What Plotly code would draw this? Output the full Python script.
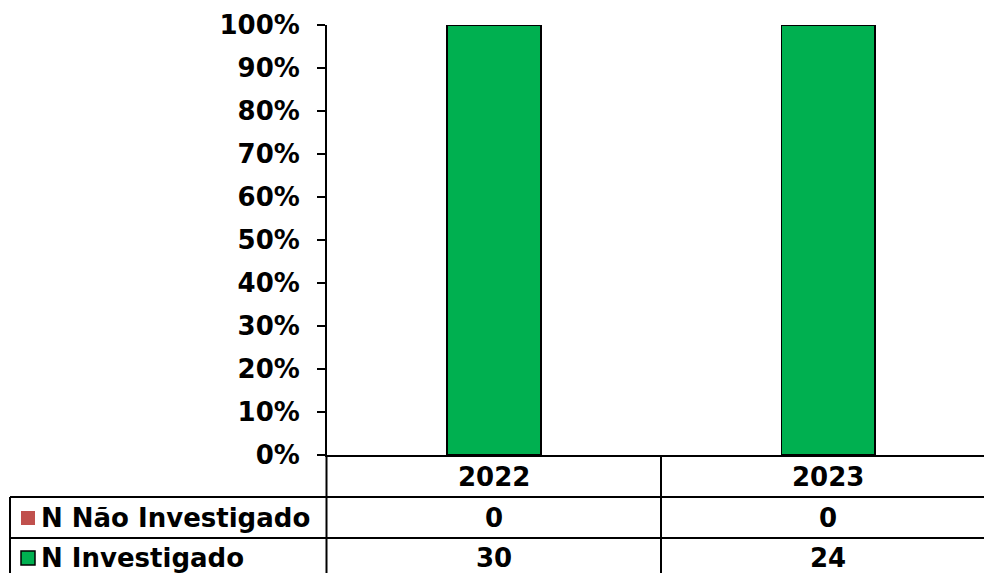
import plotly.graph_objects as go

# data
years = ["2022", "2023"]
series_names = ["N Não Investigado", "N Investigado"]
nao_investigado = [0, 0]
investigado = [30, 24]
series_values = [nao_investigado, investigado]
series_colors = ["#C0504D", "#00B050"]

W, H = 984, 573
FONT = "DejaVu Sans"
FSIZE = 26


def px(x):
    return x / W


def py(y):
    return 1 - y / H


fig = go.Figure()

fig.add_trace(go.Bar(x=years, y=nao_investigado, name=series_names[0],
                     marker=dict(color=series_colors[0], line=dict(width=0)),
                     width=0.28))
fig.add_trace(go.Bar(x=years, y=investigado, name=series_names[1],
                     marker=dict(color=series_colors[1], line=dict(color="black", width=1.5)),
                     width=0.28))

# table below the axis
shapes = []
line = dict(color="black", width=2)
# y axis line continues through the table
shapes.append(dict(type="line", xref="paper", yref="paper", x0=px(326.5), x1=px(326.5),
                   y0=py(455), y1=py(580), line=line))
# divider between years
shapes.append(dict(type="line", xref="x", yref="paper", x0=0.5, x1=0.5,
                   y0=py(455), y1=py(580), line=line))
# row lines
for yy in [497, 538]:
    shapes.append(dict(type="line", xref="paper", yref="paper", x0=px(10), x1=1,
                       y0=py(yy), y1=py(yy), line=line))
# left edge of legend box
shapes.append(dict(type="line", xref="paper", yref="paper", x0=px(10), x1=px(10),
                   y0=py(497), y1=py(580), line=line))

txt_font = dict(family=FONT, size=FSIZE, color="black", weight="bold")
row_centers = [518, 558]
annotations = []
for i, yr in enumerate(years):
    annotations.append(dict(x=i, y=py(477), xref="x", yref="paper", text=yr, showarrow=False,
                            xanchor="center", yanchor="middle", font=txt_font))
for r, (name, vals, col) in enumerate(zip(series_names, series_values, series_colors)):
    yc = row_centers[r]
    shapes.append(dict(type="rect", xref="paper", yref="paper", x0=px(21), x1=px(35),
                       y0=py(yc - 7), y1=py(yc + 7), fillcolor=col,
                       line=dict(color="black" if r == 1 else col, width=1.5 if r == 1 else 0)))
    annotations.append(dict(x=px(39), y=py(yc), xref="paper", yref="paper", text=name,
                            showarrow=False, xanchor="left", yanchor="middle", font=txt_font))
    for i, v in enumerate(vals):
        annotations.append(dict(x=i, y=py(yc), xref="x", yref="paper", text=str(v), showarrow=False,
                                xanchor="center", yanchor="middle", font=txt_font))

fig.update_layout(
    width=W, height=H, autosize=False,
    margin=dict(l=0, r=0, t=0, b=0, autoexpand=False),
    barmode="stack", barnorm="percent",
    showlegend=False,
    plot_bgcolor="white", paper_bgcolor="white",
    shapes=shapes, annotations=annotations,
    xaxis=dict(domain=[px(327), 1], range=[-0.5, 1.467], showticklabels=False,
               showline=True, linecolor="black", linewidth=2, ticks="", showgrid=False,
               automargin=False),
    yaxis=dict(domain=[py(455), py(25)], range=[0, 100], dtick=10, ticksuffix="%",
               showline=True, linecolor="black", linewidth=2, ticks="outside", ticklen=8,
               tickwidth=2, tickcolor="black", showgrid=False, zeroline=False,
               ticklabelstandoff=12, automargin=False,
               tickfont=txt_font),
)

fig.write_html("out.html", config={"displayModeBar": False},
               post_script="document.body.style.margin='0px';")
